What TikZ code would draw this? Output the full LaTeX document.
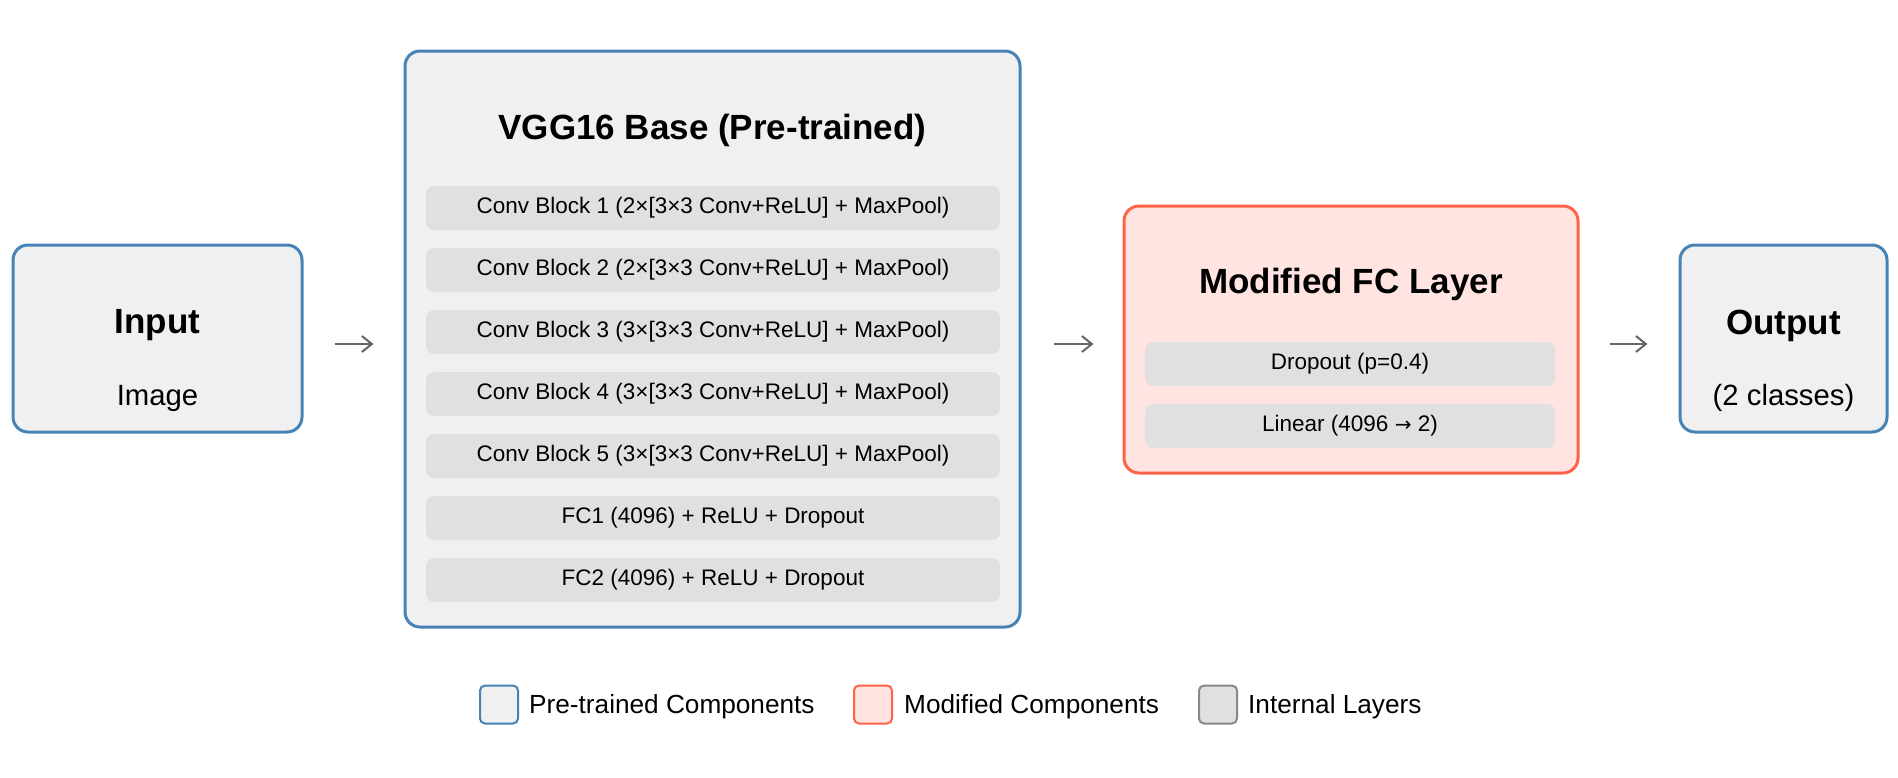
\documentclass[tikz,border=0pt]{standalone}
\usepackage{fontspec}
\setmainfont{Liberation Sans}
\newfontfamily\arrowfont{DejaVu Sans}
\usetikzlibrary{arrows.meta}
\definecolor{pblue}{HTML}{4682B4}
\definecolor{pfill}{HTML}{F0F0F0}
\definecolor{mred}{HTML}{FF6347}
\definecolor{mfill}{HTML}{FFE4E1}
\definecolor{lfill}{HTML}{E0E0E0}
\definecolor{lgray}{HTML}{888888}
\definecolor{agray}{HTML}{666666}
\tikzset{
  pbox/.style={draw=pblue, fill=pfill, line width=3pt, rounded corners=15pt, inner sep=0pt},
  mbox/.style={draw=mred, fill=mfill, line width=3pt, rounded corners=15pt, inner sep=0pt},
  layer/.style={fill=lfill, rounded corners=8pt, inner sep=0pt, minimum height=44pt,
     font=\fontsize{22.5}{27}\selectfont},
  ttl/.style={font=\fontsize{35}{42}\selectfont\bfseries, inner sep=0pt},
  sub/.style={font=\fontsize{29.3}{35}\selectfont, inner sep=0pt},
  legsq/.style={line width=2pt, rounded corners=5pt, minimum width=38pt, minimum height=38pt, inner sep=0pt},
  legtxt/.style={font=\fontsize{26.2}{31}\selectfont, inner sep=0pt, anchor=west},
  flow/.style={draw=agray, line width=2pt, -{Straight Barb[length=10pt,width=16pt,line width=2pt]}}
}
\begin{document}
\begin{tikzpicture}[x=1pt,y=-1pt]
\useasboundingbox (0,0) rectangle (1898,777);
% main boxes
\node[pbox, minimum width=289pt, minimum height=187pt] (input) at (157.5,338.5) {};
\node[pbox, minimum width=615pt, minimum height=576pt] (vgg) at (712.5,339) {};
\node[mbox, minimum width=454pt, minimum height=267pt] (mod) at (1351,339.5) {};
\node[pbox, minimum width=207pt, minimum height=187pt] (out) at (1783.5,338.5) {};
% titles
\node[ttl] (inputT) at (157.5,325.5) {Input};
\node[sub] (inputS) at (157.5,398) {Image};
\node[ttl] (vggT) at (712.5,130.5) {VGG16 Base (Pre-trained)};
\node[ttl] (modT) at (1351,284.5) {Modified FC Layer};
\node[ttl] (outT) at (1783.5,325.5) {Output};
\node[sub] (outS) at (1783.5,398) {(2 classes)};
% VGG layers
\node[layer, minimum width=574pt] (c1) at (713,208) {Conv Block 1 (2×[3×3 Conv+ReLU] + MaxPool)};
\node[layer, minimum width=574pt] (c2) at (713,270) {Conv Block 2 (2×[3×3 Conv+ReLU] + MaxPool)};
\node[layer, minimum width=574pt] (c3) at (713,332) {Conv Block 3 (3×[3×3 Conv+ReLU] + MaxPool)};
\node[layer, minimum width=574pt] (c4) at (713,394) {Conv Block 4 (3×[3×3 Conv+ReLU] + MaxPool)};
\node[layer, minimum width=574pt] (c5) at (713,456) {Conv Block 5 (3×[3×3 Conv+ReLU] + MaxPool)};
\node[layer, minimum width=574pt] (fc1) at (713,518) {FC1 (4096) + ReLU + Dropout};
\node[layer, minimum width=574pt] (fc2) at (713,580) {FC2 (4096) + ReLU + Dropout};
% modified layers
\node[layer, minimum width=410pt] (drop) at (1350,364) {Dropout (p=0.4)};
\node[layer, minimum width=410pt] (lin) at (1350,426) {Linear (4096 {\arrowfont\fontsize{20}{24}\selectfont →} 2)};
% arrows
\draw[flow, shorten <=31pt, shorten >=30pt] ([yshift=-5.5pt]input.east) -- ([yshift=-5pt]vgg.west);
\draw[flow, shorten <=32pt, shorten >=29pt] ([yshift=-5pt]vgg.east) -- ([yshift=-4.5pt]mod.west);
\draw[flow, shorten <=30pt, shorten >=31pt] ([yshift=-4.5pt]mod.east) -- ([yshift=-5.5pt]out.west);
% legend
\node[legsq, draw=pblue, fill=pfill] (lg1) at (499,704.5) {};
\node[legtxt] (lg1t) at (529,707) {Pre-trained Components};
\node[legsq, draw=mred, fill=mfill] (lg2) at (873,704.5) {};
\node[legtxt] (lg2t) at (904,707) {Modified Components};
\node[legsq, draw=lgray, fill=lfill] (lg3) at (1218,704.5) {};
\node[legtxt] (lg3t) at (1248,707) {Internal Layers};
\end{tikzpicture}
\end{document}
